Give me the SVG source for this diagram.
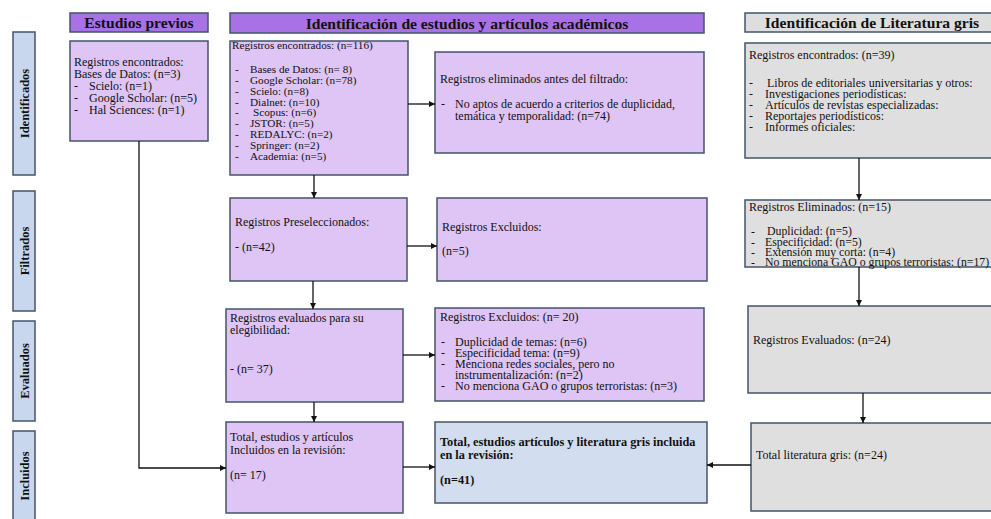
<svg xmlns="http://www.w3.org/2000/svg" width="991" height="519" viewBox="0 0 991 519">
  <style>
    .hdr { fill: #a872e6; stroke: #44546a; stroke-width: 1.5; }
    .hdr-g { fill: #dedede; stroke: #44546a; stroke-width: 1.5; }
    .side { fill: #c8d6ee; stroke: #44546a; stroke-width: 1.5; }
    .box { fill: #dec5f5; stroke: #44546a; stroke-width: 1.5; }
    .box-g { fill: #dfdfdf; stroke: #44546a; stroke-width: 1.5; }
    .box-b { fill: #d2ddef; stroke: #44546a; stroke-width: 1.5; }
    text { font-family: "Liberation Serif", "Times New Roman", serif; fill: #111; }
    .t { font-size: 12px; }
    .ts { font-size: 11.2px; }
    .tx { font-size: 11.8px; }
    .tb { font-size: 12.3px; font-weight: bold; }
    .h { font-size: 15.6px; font-weight: bold; text-anchor: middle; }
    .s { font-size: 12.5px; font-weight: bold; text-anchor: middle; }
    .c { fill: none; stroke: #111; stroke-width: 1.3; }
  </style>
  <defs>
    <marker id="arr" viewBox="0 0 10 10" refX="10" refY="5" markerWidth="6" markerHeight="6" orient="auto" markerUnits="userSpaceOnUse">
      <path d="M0,0 L10,5 L0,10 z" fill="#111"/>
    </marker>
  </defs>

  <rect width="991" height="519" fill="#ffffff"/>

  <!-- column headers -->
  <g id="hdr-previos">
    <rect class="hdr" x="70" y="13" width="138" height="19"/>
    <text class="h" x="139" y="28">Estudios previos</text>
  </g>
  <g id="hdr-academicos">
    <rect class="hdr" x="230" y="13" width="474" height="20"/>
    <text class="h" x="467" y="28.5">Identificación de estudios y artículos académicos</text>
  </g>
  <g id="hdr-gris">
    <rect class="hdr-g" x="745" y="13" width="260" height="19"/>
    <text class="h" x="872" y="28">Identificación de Literatura gris</text>
  </g>

  <!-- stage labels -->
  <g id="stage-identificados">
    <rect class="side" x="13" y="32" width="22" height="143"/>
    <text class="s" transform="translate(28.5,103.5) rotate(-90)">Identificados</text>
  </g>
  <g id="stage-filtrados">
    <rect class="side" x="13" y="191" width="22" height="120"/>
    <text class="s" transform="translate(28.5,251) rotate(-90)">Filtrados</text>
  </g>
  <g id="stage-evaluados">
    <rect class="side" x="13" y="321" width="22" height="100"/>
    <text class="s" transform="translate(28.5,371) rotate(-90)">Evaluados</text>
  </g>
  <g id="stage-incluidos">
    <rect class="side" x="13" y="431" width="22" height="100"/>
    <text class="s" transform="translate(28.5,476) rotate(-90)">Incluidos</text>
  </g>

  <!-- previous studies -->
  <g id="previos">
    <rect class="box" x="70" y="41" width="138" height="100"/>
    <text class="t" x="74" y="66">Registros encontrados:</text>
    <text class="t" x="74" y="78">Bases de Datos: (n=3)</text>
    <text class="t" x="74" y="90">-</text><text class="t" x="89" y="90">Scielo: (n=1)</text>
    <text class="t" x="74" y="102">-</text><text class="t" x="89" y="102">Google Scholar:  (n=5)</text>
    <text class="t" x="74" y="114">-</text><text class="t" x="89" y="114">Hal Sciences: (n=1)</text>
  </g>

  <!-- academic column -->
  <g id="acad-encontrados">
    <rect class="box" x="230" y="41" width="178" height="134"/>
    <text class="ts" x="232" y="49">Registros encontrados: (n=116)</text>
    <text class="ts" x="235" y="73">-</text><text class="ts" x="250" y="73">Bases de Datos: (n= 8)</text>
    <text class="ts" x="235" y="84">-</text><text class="ts" x="250" y="84">Google Scholar: (n=78)</text>
    <text class="ts" x="235" y="95">-</text><text class="ts" x="250" y="95">Scielo: (n=8)</text>
    <text class="ts" x="235" y="106">-</text><text class="ts" x="250" y="106">Dialnet: (n=10)</text>
    <text class="ts" x="235" y="116">-</text><text class="ts" x="253" y="116">Scopus: (n=6)</text>
    <text class="ts" x="235" y="127">-</text><text class="ts" x="250" y="127">JSTOR: (n=5)</text>
    <text class="ts" x="235" y="138">-</text><text class="ts" x="250" y="138">REDALYC: (n=2)</text>
    <text class="ts" x="235" y="149">-</text><text class="ts" x="250" y="149">Springer: (n=2)</text>
    <text class="ts" x="235" y="160">-</text><text class="ts" x="250" y="160">Academia: (n=5)</text>
  </g>
  <g id="acad-eliminados">
    <rect class="box" x="435" y="52" width="269" height="101"/>
    <text class="t" x="440" y="83">Registros eliminados antes del filtrado:</text>
    <text class="t" x="441" y="108">-</text><text class="t" x="455" y="108">No aptos de acuerdo a criterios de duplicidad,</text>
    <text class="t" x="455" y="120">temática y temporalidad: (n=74)</text>
  </g>
  <g id="acad-preseleccionados">
    <rect class="box" x="230" y="198" width="177" height="83"/>
    <text class="t" x="235" y="226">Registros Preseleccionados:</text>
    <text class="t" x="235" y="251">- (n=42)</text>
  </g>
  <g id="acad-excluidos">
    <rect class="box" x="437" y="198" width="270" height="83"/>
    <text class="t" x="442" y="231">Registros Excluidos:</text>
    <text class="t" x="442" y="255">(n=5)</text>
  </g>
  <g id="acad-evaluados">
    <rect class="box" x="226" y="309" width="177" height="93"/>
    <text class="t" x="230" y="322">Registros evaluados para su</text>
    <text class="t" x="230" y="334">elegibilidad:</text>
    <text class="t" x="230" y="373">- (n= 37)</text>
  </g>
  <g id="acad-excluidos-20">
    <rect class="box" x="435" y="308" width="269" height="93"/>
    <text class="t" x="440" y="321">Registros Excluidos: (n= 20)</text>
    <text class="t" x="441" y="346">-</text><text class="t" x="455" y="346">Duplicidad de temas: (n=6)</text>
    <text class="t" x="441" y="357">-</text><text class="t" x="455" y="357">Especificidad tema: (n=9)</text>
    <text class="t" x="441" y="368">-</text><text class="t" x="455" y="368">Menciona redes sociales, pero no</text>
    <text class="t" x="455" y="379">instrumentalización: (n=2)</text>
    <text class="t" x="441" y="390">-</text><text class="t" x="455" y="390">No menciona GAO o grupos terroristas: (n=3)</text>
  </g>
  <g id="acad-incluidos">
    <rect class="box" x="226" y="422" width="177" height="91"/>
    <text class="t" x="230" y="441">Total, estudios y artículos</text>
    <text class="t" x="230" y="454">Incluidos en la revisión:</text>
    <text class="t" x="230" y="479">(n= 17)</text>
  </g>
  <g id="total-incluidos">
    <rect class="box-b" x="435" y="422" width="272" height="81"/>
    <text class="tb" x="440" y="446">Total, estudios artículos y literatura gris incluida</text>
    <text class="tb" x="440" y="459">en la revisión:</text>
    <text class="tb" x="440" y="484">(n=41)</text>
  </g>

  <!-- grey literature column -->
  <g id="gris-encontrados">
    <rect class="box-g" x="745" y="43" width="260" height="115"/>
    <text class="t" x="749" y="59">Registros encontrados: (n=39)</text>
    <text class="t" x="749" y="87">-</text><text class="t" x="767" y="87">Libros de editoriales universitarias y otros:</text>
    <text class="t" x="749" y="98">-</text><text class="t" x="765" y="98">Investigaciones periodísticas:</text>
    <text class="t" x="749" y="109">-</text><text class="t" x="765" y="109">Artículos de revistas especializadas:</text>
    <text class="t" x="749" y="120">-</text><text class="t" x="765" y="120">Reportajes periodísticos:</text>
    <text class="t" x="749" y="131">-</text><text class="t" x="765" y="131">Informes oficiales:</text>
  </g>
  <g id="gris-eliminados">
    <rect class="box-g" x="745" y="200" width="260" height="67"/>
    <text class="t" x="749" y="211">Registros Eliminados:  (n=15)</text>
    <text class="tx" x="751" y="235">-</text><text class="tx" x="767" y="235">Duplicidad: (n=5)</text>
    <text class="tx" x="751" y="245.5">-</text><text class="tx" x="765" y="245.5">Especificidad: (n=5)</text>
    <text class="tx" x="751" y="256">-</text><text class="tx" x="765" y="256">Extensión muy corta: (n=4)</text>
    <text class="tx" x="751" y="266">-</text><text class="tx" x="765" y="266">No menciona GAO o grupos terroristas: (n=17)</text>
  </g>
  <g id="gris-evaluados">
    <rect class="box-g" x="748" y="306" width="260" height="87"/>
    <text class="t" x="753" y="344">Registros Evaluados: (n=24)</text>
  </g>
  <g id="gris-total">
    <rect class="box-g" x="751" y="423" width="260" height="88"/>
    <text class="t" x="756" y="459">Total literatura gris: (n=24)</text>
  </g>

  <!-- connectors -->
  <g id="connectors">
    <path class="c" d="M408,104 H435" marker-end="url(#arr)"/>
    <path class="c" d="M314,175 V198" marker-end="url(#arr)"/>
    <path class="c" d="M407,246 H437" marker-end="url(#arr)"/>
    <path class="c" d="M313,281 V309" marker-end="url(#arr)"/>
    <path class="c" d="M403,355 H435" marker-end="url(#arr)"/>
    <path class="c" d="M314,402 V422" marker-end="url(#arr)"/>
    <path class="c" d="M139,141 V468 H226" marker-end="url(#arr)"/>
    <path class="c" d="M403,467 H435" marker-end="url(#arr)"/>
    <path class="c" d="M751,465 H707" marker-end="url(#arr)"/>
    <path class="c" d="M859,158 V200" marker-end="url(#arr)"/>
    <path class="c" d="M859,267 V306" marker-end="url(#arr)"/>
    <path class="c" d="M863,393 V423" marker-end="url(#arr)"/>
  </g>
</svg>
